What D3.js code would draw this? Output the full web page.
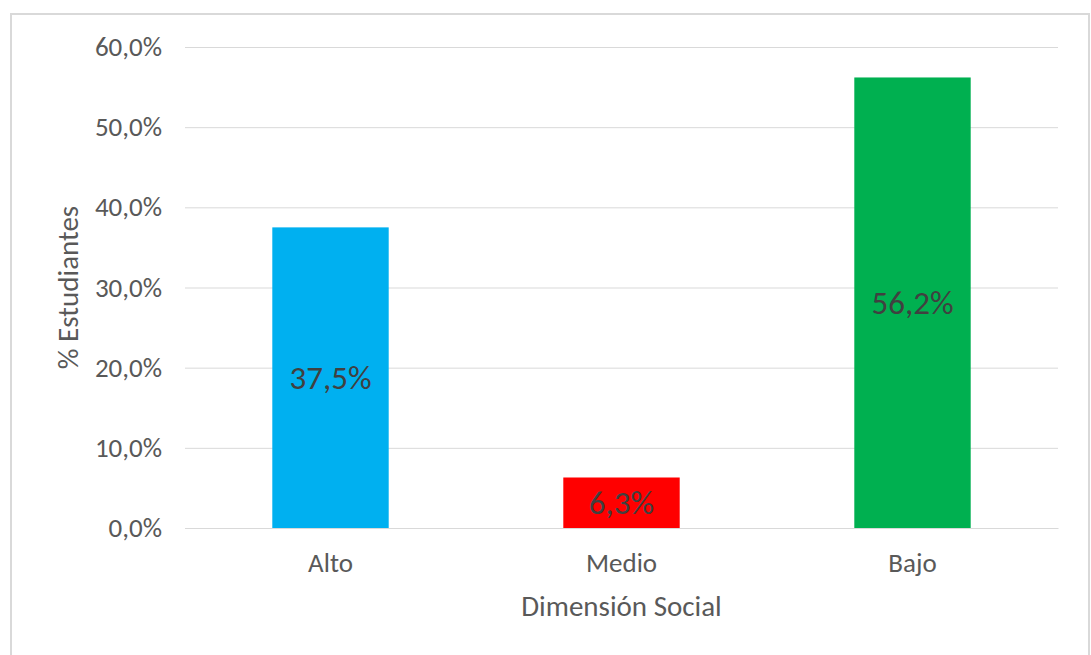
<!DOCTYPE html>
<html><head><meta charset="utf-8">
<script src="https://d3js.org/d3.v7.min.js"></script>
<style>body{margin:0;background:#fff;} svg{display:block;}</style>
</head><body>
<script>
const categories = ["Alto", "Medio", "Bajo"];
const values = [37.5, 6.3, 56.2];
const barColors = ["#00B0F0", "#FF0000", "#00B050"];
const yTicks = [0, 10, 20, 30, 40, 50, 60];
const yTitle = "% Estudiantes";
const xTitle = "Dimensión Social";

const W = 1091, H = 655;
const m = {left: 185, right: 1058, top: 47, bottom: 528};
const font = "Carlito, Calibri, Lato, sans-serif";
const fmt = v => v.toFixed(1).replace(".", ",") + "%";

const svg = d3.select("body").append("svg").attr("width", W).attr("height", H);
svg.append("rect").attr("x", 11).attr("y", 14).attr("width", 1078).attr("height", 660)
  .attr("fill", "#fff").attr("stroke", "#D9D9D9").attr("stroke-width", 2);

const x = d3.scaleBand().domain(categories).range([m.left, m.right]).paddingInner(0.6).paddingOuter(0.3);
const y = d3.scaleLinear().domain([0, 60]).range([m.bottom, m.top]);

const yAxis = svg.append("g").attr("transform", `translate(${m.left},0)`)
  .call(d3.axisLeft(y).tickValues(yTicks).tickFormat(fmt).tickSize(-(m.right - m.left)).tickPadding(23));
yAxis.select(".domain").remove();
yAxis.selectAll(".tick line").attr("stroke", "#D9D9D9").attr("stroke-width", 1);
yAxis.selectAll(".tick text").attr("fill", "#595959").style("font-family", font).style("font-size", "27px");

svg.append("g").selectAll("rect").data(values).join("rect")
  .attr("x", (d, i) => x(categories[i])).attr("width", x.bandwidth())
  .attr("y", d => y(d)).attr("height", d => y(0) - y(d))
  .attr("fill", (d, i) => barColors[i]);

svg.append("g").selectAll("text").data(values).join("text")
  .attr("x", (d, i) => x(categories[i]) + x.bandwidth() / 2)
  .attr("y", d => (y(d) + y(0)) / 2)
  .attr("dy", "0.35em").attr("text-anchor", "middle")
  .attr("fill", "#404040").style("font-family", font).style("font-size", "33px")
  .text(fmt);

const xAxis = svg.append("g").attr("transform", `translate(0,${m.bottom})`)
  .call(d3.axisBottom(x).tickSize(0));
xAxis.select(".domain").attr("stroke", "#D9D9D9");
xAxis.selectAll(".tick text").attr("y", 35).attr("dy", "0.35em")
  .attr("fill", "#595959").style("font-family", font).style("font-size", "27px");

svg.append("text").attr("x", (m.left + m.right) / 2).attr("y", 606).attr("dy", "0.35em")
  .attr("text-anchor", "middle").attr("fill", "#595959").style("font-family", font).style("font-size", "29px")
  .text(xTitle);

svg.append("text").attr("transform", `translate(68,${(m.top + m.bottom) / 2}) rotate(-90)`)
  .attr("dy", "0.35em").attr("text-anchor", "middle").attr("fill", "#595959")
  .style("font-family", font).style("font-size", "29px").text(yTitle);
</script>
</body></html>
